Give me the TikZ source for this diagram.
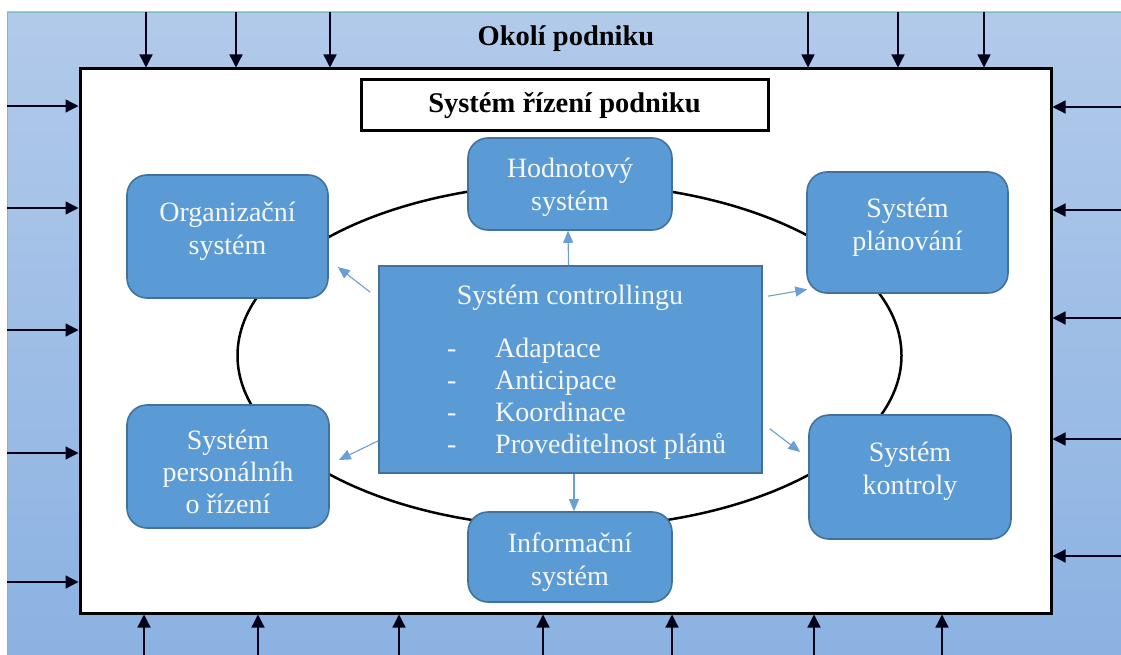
\documentclass[tikz,border=0pt]{standalone}
\usepackage{fontspec}
\setmainfont{Liberation Serif}
\usetikzlibrary{arrows.meta}
\definecolor{bgtop}{HTML}{B2CAEA}
\definecolor{bgbot}{HTML}{8BB2E2}
\definecolor{bgline}{HTML}{7FB8C8}
\definecolor{nodefill}{HTML}{5B9BD5}
\definecolor{nodeline}{HTML}{41719C}
\definecolor{arrowblue}{HTML}{6A9FD6}
\definecolor{txtwhite}{HTML}{F7F7F2}
\begin{document}
\begin{tikzpicture}[x=1pt,y=-1pt,
  sysbox/.style={draw=nodeline, line width=1.6pt, fill=nodefill, rounded corners=20pt, inner sep=0pt},
  systxt/.style={text=txtwhite, align=center, font=\fontsize{28}{33}\selectfont, inner sep=0pt},
  inarr/.style={line width=1.3pt, draw=black!90!blue, -{Triangle[length=13pt,width=13pt]}},
  blarr/.style={line width=1.1pt, draw=arrowblue, -{Triangle[length=12pt,width=10pt]}},
  ctext/.style={text=txtwhite, font=\fontsize{28}{33}\selectfont, inner sep=0pt, anchor=base west}]
\useasboundingbox (0,0) rectangle (1121,655);
% background
\shade[top color=bgtop, bottom color=bgbot, draw=bgline, line width=0.8pt] (7,12) rectangle (1121,655);
\node[font=\bfseries\fontsize{28.5}{32}\selectfont, inner sep=0pt] (okoli) at (566,39) {Okolí podniku};
% white inner box
\node[draw=black, line width=3pt, fill=white, minimum width=971pt, minimum height=544pt, inner sep=0pt] (inner) at (565.5,341) {};
% arrows into box
\foreach \x in {146,236,330,808,898,984} \draw[inarr] (\x,12) -- (\x,0 |- inner.north);
\foreach \x in {144,258,399,543,672,814,942} \draw[inarr] (\x,655) -- (\x,0 |- inner.south);
\foreach \y in {106,208,330,453,582} \draw[inarr] (7,\y) -- (inner.west |- 0,\y);
\foreach \y in {107,210,318,439,556} \draw[inarr] (1121,\y) -- (inner.east |- 0,\y);
% heading box
\node[draw=black, line width=3pt, fill=white, minimum width=407pt, minimum height=51pt, inner sep=0pt,
  font=\bfseries\fontsize{28.5}{32}\selectfont] (head) at (564.5,105.5) {Systém řízení podniku};
% ellipse
\draw[line width=2.5pt] (569.5,355.5) ellipse [x radius=332, y radius=172];
% subsystem boxes
\node[sysbox, minimum width=204pt, minimum height=92pt] (hod) at (570,184) {};
\node[systxt] (hodt) at ([yshift=-3pt]hod.center) {Hodnotový\\systém};
\node[sysbox, minimum width=201pt, minimum height=123pt] (org) at (227.5,236.5) {};
\node[systxt] (orgt) at ([yshift=5pt]org.center) {Organizační\\systém};
\node[sysbox, minimum width=201pt, minimum height=121pt] (plan) at (907.5,232.5) {};
\node[systxt] (plant) at ([yshift=5pt]plan.center) {Systém\\plánování};
\node[sysbox, minimum width=202pt, minimum height=123pt] (pers) at (228,466.5) {};
\node[systxt, font=\fontsize{28}{32}\selectfont] (perst) at ([yshift=-5pt]pers.center) {Systém\\personálníh\\o řízení};
\node[sysbox, minimum width=204pt, minimum height=90pt] (inf) at (570,557) {};
\node[systxt] (inft) at ([yshift=-5.5pt]inf.center) {Informační\\systém};
\node[sysbox, minimum width=202pt, minimum height=124pt] (kon) at (910,477) {};
\node[systxt] (kont) at ([yshift=6pt]kon.center) {Systém\\kontroly};
% controlling box
\node[draw=nodeline, line width=1.6pt, fill=nodefill, minimum width=383pt, minimum height=207pt, inner sep=0pt] (ctrl) at (570.5,369.5) {};
\node[text=txtwhite, font=\fontsize{28}{33}\selectfont, inner sep=0pt, anchor=base] (ctitle) at (570,304) {Systém controllingu};
\node[ctext] (d1) at (447,357) {-};
\node[ctext] (i1) at (495,357) {Adaptace};
\node[ctext] (d2) at (447,389) {-};
\node[ctext] (i2) at (495,389) {Anticipace};
\node[ctext] (d3) at (447,421) {-};
\node[ctext] (i3) at (495,421) {Koordinace};
\node[ctext] (d4) at (447,453) {-};
\node[ctext] (i4) at (495,453) {Proveditelnost plánů};
% blue arrows
\draw[blarr] ([xshift=-2pt]ctrl.north) -- ([xshift=-2pt]hod.south);
\draw[blarr] ([xshift=3.5pt]ctrl.south) -- ([xshift=4pt]inf.north);
\draw[blarr] ([xshift=-8pt,yshift=-27pt]ctrl.north west) -- ([xshift=9pt,yshift=-30.5pt]org.east);
\draw[blarr] ([xshift=5pt,yshift=-31pt]ctrl.north east) -- ([xshift=1pt,yshift=-57pt]plan.west);
\draw[blarr] ([xshift=0pt,yshift=33pt]ctrl.south west) -- ([xshift=9pt,yshift=6.5pt]pers.east);
\draw[blarr] ([xshift=7pt,yshift=45pt]ctrl.south east) -- ([xshift=-8pt,yshift=25pt]kon.west);
\end{tikzpicture}
\end{document}
